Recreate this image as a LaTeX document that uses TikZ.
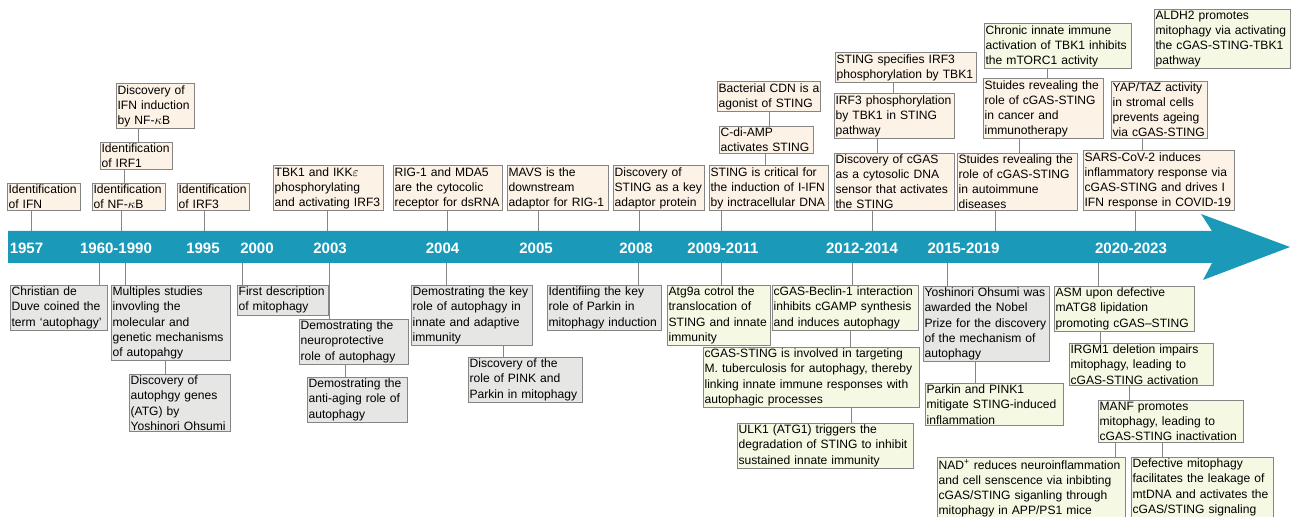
\documentclass[tikz,border=0pt]{standalone}
\usepackage{fontspec}
\setmainfont{Liberation Sans}
\usetikzlibrary{positioning}
\definecolor{tlteal}{HTML}{1A9AB8}
\definecolor{tlpeach}{HTML}{FCF2E6}
\definecolor{tlgrey}{HTML}{E6E6E4}
\definecolor{tlgreen}{HTML}{F5F9E3}
\definecolor{tledge}{HTML}{858585}

\begin{document}
\begin{tikzpicture}[x=0.025cm,y=-0.025cm,
    box/.style={draw=tledge,line width=0.7pt,inner xsep=0.8pt,inner ysep=1.2pt,align=left,
      font=\fontsize{8.6}{10.7}\selectfont,execute at begin node={\hyphenpenalty=10000}},
    ifnbox/.style={box,fill=tlpeach,anchor=south west},
    topgreen/.style={box,fill=tlgreen,anchor=south west},
    autobox/.style={box,fill=tlgrey,anchor=north west},
    stingbox/.style={box,fill=tlgreen,anchor=north west},
    yr/.style={text=white,anchor=base,inner sep=0pt,font=\fontsize{10.7}{12}\selectfont\bfseries},
    link/.style={draw=tledge,line width=0.7pt}]
  \useasboundingbox (0,0) rectangle (1294,517);

  % time axis
  \fill[tlteal] (8,231) -- (1212,231) -- (1201,214) -- (1290,247) -- (1203,280) -- (1212,263) -- (8,263) -- cycle;
  \node[yr] (y1957) at (26.5,253.5) {1957};
  \node[yr] (y1960) at (116,253.5) {1960-1990};
  \node[yr] (y1995) at (203,253.5) {1995};
  \node[yr] (y2000) at (257,253.5) {2000};
  \node[yr] (y2003) at (330,253.5) {2003};
  \node[yr] (y2004) at (442.5,253.5) {2004};
  \node[yr] (y2005) at (536,253.5) {2005};
  \node[yr] (y2008) at (636,253.5) {2008};
  \node[yr] (y2009) at (723,253.5) {2009-2011};
  \node[yr] (y2012) at (862,253.5) {2012-2014};
  \node[yr] (y2015) at (963.5,253.5) {2015-2019};
  \node[yr] (y2020) at (1131,253.5) {2020-2023};

  % innate immunity / STING milestones (above)
  \node[ifnbox,text width=1.775cm] (ifn) at (7,211) {Identification\\of IFN};
  \node[ifnbox,text width=1.775cm] (nfkb) at (92,211) {Identification\\of NF-$\kappa$B};
  \node[ifnbox,text width=1.75cm] (irf1) at (100,170) {Identification\\of IRF1};
  \node[ifnbox,text width=1.9cm] (ifnind) at (116,129) {Discovery of\\IFN induction\\by NF-$\kappa$B};
  \node[ifnbox,text width=1.75cm] (irf3) at (177,211) {Identification\\of IRF3};
  \node[ifnbox,text width=2.7cm] (tbk) at (273,211) {TBK1 and IKK$\varepsilon$\\phosphorylating\\and activating IRF3};
  \node[ifnbox,text width=2.675cm] (rig) at (393,211) {RIG-1 and MDA5\\are the cytocolic\\receptor for dsRNA};
  \node[ifnbox,text width=2.475cm] (mavs) at (507,211) {MAVS is the\\downstream\\adaptor for RIG-1};
  \node[ifnbox,text width=2.225cm] (sting) at (613,211) {Discovery of\\STING as a key\\adaptor protein};
  \node[ifnbox,text width=2.925cm] (stingifn) at (709,211) {STING is critical for\\the induction of I-IFN\\by inctracellular DNA};
  \node[ifnbox,text width=2.3cm] (cdiamp) at (719,154) {C-di-AMP\\activates STING};
  \node[ifnbox,text width=2.525cm] (cdn) at (717,112) {Bacterial CDN is a\\agonist of STING};
  \node[ifnbox,text width=2.95cm] (cgas) at (834,211) {Discovery of cGAS\\as a cytosolic DNA\\sensor that activates\\the STING};
  \node[ifnbox,text width=2.95cm] (irf3p) at (834,139) {IRF3 phosphorylation\\by TBK1 in STING\\pathway};
  \node[ifnbox,text width=3.475cm] (spec) at (835,83) {STING specifies IRF3\\phosphorylation by TBK1};
  \node[ifnbox,text width=2.95cm] (autoimm) at (957,211) {Stuides revealing the\\role of cGAS-STING\\in autoimmune\\diseases};
  \node[ifnbox,text width=2.95cm] (cancer) at (983,139) {Stuides revealing the\\role of cGAS-STING\\in cancer and\\immunotherapy};
  \node[topgreen,text width=3.625cm] (chronic) at (984,69) {Chronic innate immune\\activation of TBK1 inhibits\\the mTORC1 activity};
  \node[ifnbox,text width=3.725cm] (sars) at (1083,211) {SARS-CoV-2 induces\\inflammatory response via\\cGAS-STING and drives I\\IFN response in COVID-19};
  \node[ifnbox,text width=2.35cm] (yap) at (1111,139) {YAP/TAZ activity\\in stromal cells\\prevents ageing\\via cGAS-STING};
  \node[topgreen,text width=3.35cm] (aldh) at (1154,69) {ALDH2 promotes\\mitophagy via activating\\the cGAS-STING-TBK1\\pathway};

  \draw[link] (ifn.south -| 31,0) -- (31,231);
  \draw[link] (nfkb.south -| 121,0) -- (121,231);
  \draw[link] (irf1.south -| 124,0) -- (nfkb.north -| 124,0);
  \draw[link] (ifnind.south -| 138,0) -- (irf1.north -| 138,0);
  \draw[link] (irf3.south -| 204,0) -- (204,231);
  \draw[link] (tbk.south -| 327,0) -- (327,231);
  \draw[link] (rig.south -| 447,0) -- (447,231);
  \draw[link] (mavs.south -| 538,0) -- (538,231);
  \draw[link] (sting.south -| 639,0) -- (639,231);
  \draw[link] (stingifn.south -| 721,0) -- (721,231);
  \draw[link] (cdiamp.south -| 765,0) -- (stingifn.north -| 765,0);
  \draw[link] (cdn.south -| 769,0) -- (cdiamp.north -| 769,0);
  \draw[link] (cgas.south -| 872,0) -- (872,231);
  \draw[link] (irf3p.south -| 877,0) -- (cgas.north -| 877,0);
  \draw[link] (spec.south -| 893,0) -- (irf3p.north -| 893,0);
  \draw[link] (autoimm.south -| 995,0) -- (995,231);
  \draw[link] (cancer.south -| 1019,0) -- (autoimm.north -| 1019,0);
  \draw[link] (chronic.south -| 1047,0) -- (cancer.north -| 1047,0);
  \draw[link] (sars.south -| 1135,0) -- (1135,231);
  \draw[link] (yap.south -| 1142,0) -- (sars.north -| 1142,0);

  % autophagy / mitophagy milestones (below)
  \node[autobox,text width=2.375cm] (duve) at (10,285) {Christian de\\Duve coined the\\term ‘autophagy’};
  \node[autobox,text width=2.925cm] (multi) at (111,285) {Multiples studies\\invovling the\\molecular and\\genetic mechanisms\\of autopahgy};
  \node[autobox,text width=2.475cm] (atg) at (129,374) {Discovery of\\autophgy genes\\(ATG) by\\Yoshinori Ohsumi};
  \node[autobox,text width=2.225cm] (first) at (237,285) {First description\\of mitophagy};
  \node[autobox,text width=2.675cm] (neuro) at (299,319) {Demostrating the\\neuroprotective\\role of autophagy};
  \node[autobox,text width=2.45cm] (aging) at (307,377) {Demostrating the\\anti-aging role of\\autophagy};
  \node[autobox,text width=2.975cm] (immun) at (411,285) {Demostrating the key\\role of autophagy in\\innate and adaptive\\immunity};
  \node[autobox,text width=2.8cm] (pink) at (468,357) {Discovery of the\\role of PINK and\\Parkin in mitophagy};
  \node[autobox,text width=2.8cm] (parkin) at (547,285) {Identifiing the key\\role of Parkin in\\mitophagy induction};
  \node[stingbox,text width=2.525cm] (atg9a) at (667,285) {Atg9a cotrol the\\translocation of\\STING and innate\\immunity};
  \node[stingbox,text width=3.6cm] (beclin) at (772,285) {cGAS-Beclin-1 interaction\\inhibits cGAMP synthesis\\and induces autophagy};
  \node[stingbox,text width=5.35cm] (tuber) at (703,347) {cGAS-STING is involved in targeting\\M. tuberculosis for autophagy, thereby\\linking innate immune responses with\\autophagic processes};
  \node[stingbox,text width=4.35cm] (ulk) at (737,423) {ULK1 (ATG1) triggers the\\degradation of STING to inhibit\\sustained innate immunity};
  \node[autobox,text width=3.1cm] (nobel) at (923,286) {Yoshinori Ohsumi was\\awarded the Nobel\\Prize for the discovery\\of the mechanism of\\autophagy};
  \node[stingbox,text width=3.4cm] (pink1) at (925,383) {Parkin and PINK1\\mitigate STING-induced\\inflammation};
  \node[stingbox,text width=3.45cm] (asm) at (1054,286) {ASM upon defective\\mATG8 lipidation\\promoting cGAS--STING};
  \node[stingbox,text width=3.55cm] (irgm) at (1069,343) {IRGM1 deletion impairs\\mitophagy, leading to\\cGAS-STING activation};
  \node[stingbox,text width=3.575cm] (manf) at (1098,400) {MANF promotes\\mitophagy, leading to\\cGAS-STING inactivation};
  \node[stingbox,text width=4.65cm] (nad) at (937,457) {NAD\textsuperscript{+} reduces neuroinflammation\\and cell senscence via inbibting\\cGAS/STING siganling through\\mitophagy in APP/PS1 mice};
  \node[stingbox,text width=3.5cm] (leak) at (1131,457) {Defective mitophagy\\facilitates the leakage of\\mtDNA and activates the\\cGAS/STING signaling};

  \draw[link] (99,263) -- (duve.north -| 99,0);
  \draw[link] (125,263) -- (multi.north -| 125,0);
  \draw[link] (multi.south -| 165,0) -- (atg.north -| 165,0);
  \draw[link] (242,263) -- (first.north -| 242,0);
  \draw[link] (329,263) -- (neuro.north -| 329,0);
  \draw[link] (neuro.south -| 345,0) -- (aging.north -| 345,0);
  \draw[link] (446,263) -- (immun.north -| 446,0);
  \draw[link] (immun.south -| 503,0) -- (pink.north -| 503,0);
  \draw[link] (638,263) -- (parkin.north -| 638,0);
  \draw[link] (721,263) -- (atg9a.north -| 721,0);
  \draw[link] (852,263) -- (beclin.north -| 852,0);
  \draw[link] (beclin.south -| 850,0) -- (tuber.north -| 850,0);
  \draw[link] (tuber.south -| 851,0) -- (ulk.north -| 851,0);
  \draw[link] (947,263) -- (nobel.north -| 947,0);
  \draw[link] (nobel.south -| 975,0) -- (pink1.north -| 975,0);
  \draw[link] (1098,263) -- (asm.north -| 1098,0);
  \draw[link] (asm.south -| 1100,0) -- (irgm.north -| 1100,0);
  \draw[link] (irgm.south -| 1129,0) -- (manf.north -| 1129,0);
  \draw[link] (manf.south -| 1115,0) -- (nad.north -| 1115,0);
  \draw[link] (manf.south -| 1162,0) -- (leak.north -| 1162,0);
\end{tikzpicture}
\end{document}
